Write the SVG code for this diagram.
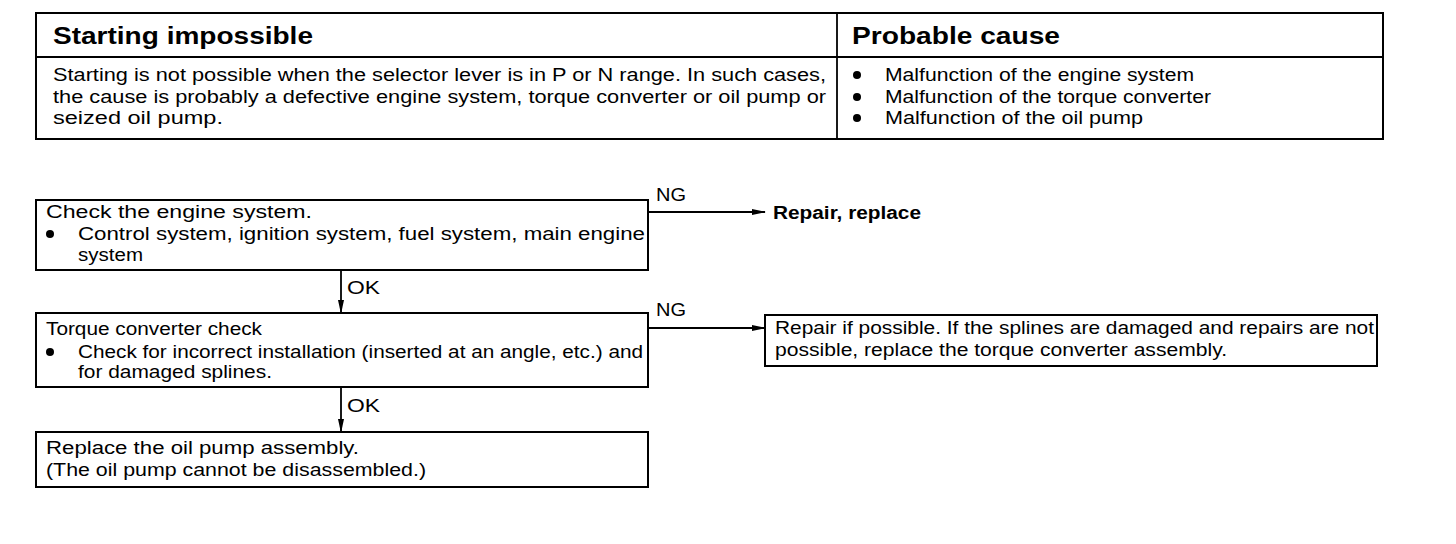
<svg xmlns="http://www.w3.org/2000/svg" width="1456" height="544" viewBox="0 0 1456 544">
<defs>
<style>
.t{font-family:"Liberation Sans",Arial,sans-serif;font-size:17.5px;fill:#000}
.h{font-family:"Liberation Sans",Arial,sans-serif;font-size:23px;font-weight:bold;fill:#000}
.b{font-weight:bold}
.box{fill:#fff;stroke:#000;stroke-width:2}
.ln{stroke:#000;stroke-width:1.8;fill:none}
</style>
<marker id="ah" markerWidth="14" markerHeight="8" refX="13" refY="4" orient="auto" markerUnits="userSpaceOnUse">
<path d="M0,1 L14,4 L0,7 Z" fill="#000"/>
</marker>
</defs>
<rect width="1456" height="544" fill="#fff"/>

<g id="table">
<rect class="box" x="36" y="13" width="1347" height="126"/>
<line class="ln" x1="36" y1="57" x2="1383" y2="57" stroke-width="2"/>
<line class="ln" x1="837" y1="13" x2="837" y2="139"/>
<text class="h" x="53" y="44" textLength="260" lengthAdjust="spacingAndGlyphs">Starting impossible</text>
<text class="h" x="852" y="44" textLength="208" lengthAdjust="spacingAndGlyphs">Probable cause</text>
<text class="t" x="53" y="81" textLength="773" lengthAdjust="spacingAndGlyphs">Starting is not possible when the selector lever is in P or N range. In such cases,</text>
<text class="t" x="53" y="103" textLength="773" lengthAdjust="spacingAndGlyphs">the cause is probably a defective engine system, torque converter or oil pump or</text>
<text class="t" x="53" y="124" textLength="170" lengthAdjust="spacingAndGlyphs">seized oil pump.</text>
<circle cx="857" cy="75" r="4"/>
<circle cx="857" cy="97" r="4"/>
<circle cx="857" cy="118" r="4"/>
<text class="t" x="885" y="81" textLength="309" lengthAdjust="spacingAndGlyphs">Malfunction of the engine system</text>
<text class="t" x="885" y="103" textLength="326" lengthAdjust="spacingAndGlyphs">Malfunction of the torque converter</text>
<text class="t" x="885" y="124" textLength="258" lengthAdjust="spacingAndGlyphs">Malfunction of the oil pump</text>
</g>

<g id="connectors">
<line class="ln" x1="648" y1="212" x2="765" y2="212" marker-end="url(#ah)"/>
<line class="ln" x1="648" y1="328" x2="765" y2="328" marker-end="url(#ah)"/>
<line class="ln" x1="341" y1="270" x2="341" y2="313" marker-end="url(#ah)"/>
<line class="ln" x1="341" y1="387" x2="341" y2="432" marker-end="url(#ah)"/>
<text class="t" x="656" y="201" textLength="30" lengthAdjust="spacingAndGlyphs">NG</text>
<text class="t" x="656" y="316" textLength="30" lengthAdjust="spacingAndGlyphs">NG</text>
<text class="t" x="347" y="294" textLength="33" lengthAdjust="spacingAndGlyphs">OK</text>
<text class="t" x="347" y="412" textLength="33" lengthAdjust="spacingAndGlyphs">OK</text>
</g>

<g id="node-engine">
<rect class="box" x="36" y="200" width="612" height="70"/>
<text class="t" x="46" y="218" textLength="266" lengthAdjust="spacingAndGlyphs">Check the engine system.</text>
<circle cx="50" cy="234" r="4"/>
<text class="t" x="78" y="240" textLength="567" lengthAdjust="spacingAndGlyphs">Control system, ignition system, fuel system, main engine</text>
<text class="t" x="78" y="261" textLength="65" lengthAdjust="spacingAndGlyphs">system</text>
</g>

<g id="node-repair-replace">
<text class="t b" x="773" y="219" textLength="148" lengthAdjust="spacingAndGlyphs">Repair, replace</text>
</g>

<g id="node-torque">
<rect class="box" x="36" y="313" width="612" height="74"/>
<text class="t" x="46" y="335" textLength="216" lengthAdjust="spacingAndGlyphs">Torque converter check</text>
<circle cx="50" cy="352" r="4"/>
<text class="t" x="78" y="358" textLength="565" lengthAdjust="spacingAndGlyphs">Check for incorrect installation (inserted at an angle, etc.) and</text>
<text class="t" x="78" y="378" textLength="194" lengthAdjust="spacingAndGlyphs">for damaged splines.</text>
</g>

<g id="node-torque-repair">
<rect class="box" x="765" y="315" width="612" height="51"/>
<text class="t" x="775" y="334" textLength="599" lengthAdjust="spacingAndGlyphs">Repair if possible. If the splines are damaged and repairs are not</text>
<text class="t" x="775" y="356" textLength="452" lengthAdjust="spacingAndGlyphs">possible, replace the torque converter assembly.</text>
</g>

<g id="node-oil-pump">
<rect class="box" x="36" y="432" width="612" height="55"/>
<text class="t" x="46" y="454" textLength="313" lengthAdjust="spacingAndGlyphs">Replace the oil pump assembly.</text>
<text class="t" x="46" y="476" textLength="380" lengthAdjust="spacingAndGlyphs">(The oil pump cannot be disassembled.)</text>
</g>
</svg>
